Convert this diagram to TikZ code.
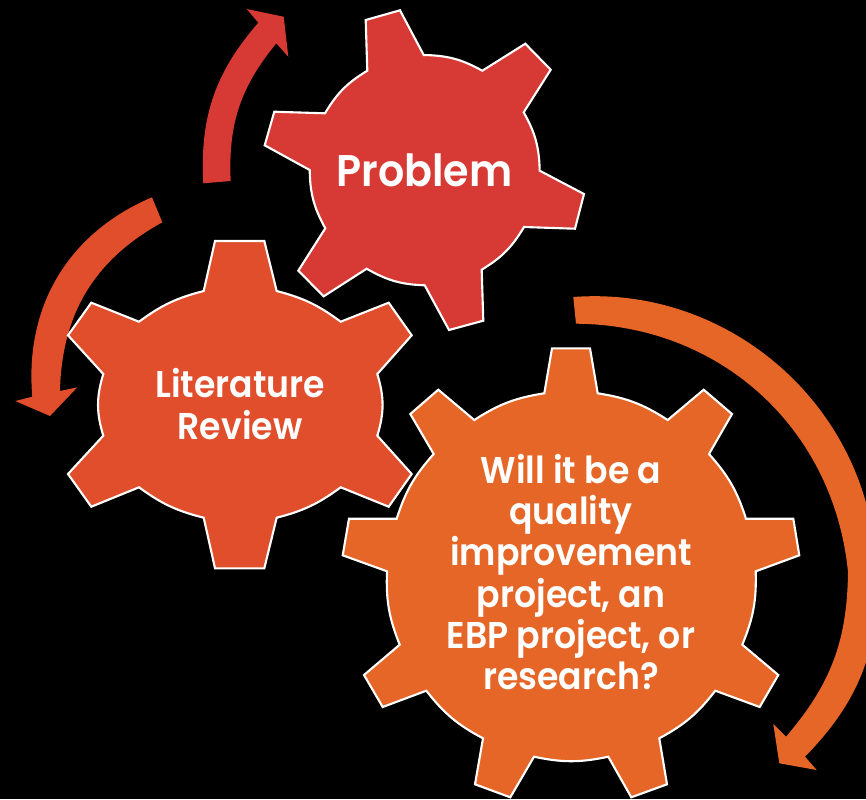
\documentclass[tikz,border=0pt]{standalone}
\usepackage{fontspec}
\setmainfont[BoldFont={Poppins SemiBold},FakeStretch=0.93]{Poppins}
\usepackage{tikz}
\usetikzlibrary{calc}
\definecolor{ProblemRed}{RGB}{215,58,52}
\definecolor{ReviewRed}{RGB}{224,78,44}
\definecolor{QualityOrange}{RGB}{229,102,39}
\tikzset{
	gearBody/.style={draw=white, line width=0.6pt, line join=miter},
	gearText/.style={text=white, align=center, font=\bfseries\fontsize{10.6}{11.7}\selectfont},
}
\begin{document}
\begin{tikzpicture}[x=0.01cm, y=-0.01cm]
		\fill [black] (0,0) rectangle (866,799);
		\clip (0,0) rectangle (866,799);
		
		%problem
		\fill [ProblemRed] (203.3,183.3) to[bend left=22] (258.3,22.7) -- (246.7,9) -- (283.7,16.7)
								-- (288.3,56.7) -- (276.3,43.3) to[bend right=21] (230.7,181) -- cycle;
		\draw [gearBody, fill=ProblemRed] (365.7,20) -- (400,10.3) -- (423.7,55)
								to[bend left=14] (482.3,70.7) -- (525.3,43.7) -- (550.7,69.7) -- (523.7,112.3)
								to[bend left=14] (539.7,170.7) -- (584,194) -- (575,228.7) -- (524,227)
								to[bend left=14] (481.7,269.7) -- (483.3,320.7) -- (449,330) -- (424.7,285.3)
								to[bend left=14] (366.7,268.7) -- (323.7,296.3) -- (298.3,270.7) -- (325.3,228.3)
								to[bend left=14] (309.7,170) -- (264.7,145.3) -- (274.3,111.7) -- (325,113.3)
								to[bend left=14] (367.3,70.7) -- cycle;
		
		%literature review
		\fill [ReviewRed] (152,197.3) to[bend right=36] (32.3,396.7) -- (15.3,401) -- (50,416)
								-- (77.3,387.3) -- (60,391) to[bend left=30] (162.3,222.3) -- cycle;
		\draw [gearBody, fill=ReviewRed] (215,241) -- (264.3,241) -- (276.7,291)
								to[bend left=11] (340.7,321.7) -- (388.7,302.7) -- (411.7,335.3) -- (377.3,374)
								to[bend left=17] (377.3,435.7) -- (411.7,474) -- (388.7,506.7) -- (340.7,487.3)
								to[bend left=11] (276.7,517.7) -- (264.3,568.3) -- (215,568.3) -- (203.7,517.7)
								to[bend left=11] (139,487.3) -- (91.3,506.7) -- (68,474) -- (103.3,435.7)
								to[bend left=17] (103.3,374) -- (68,335.3) -- (91.3,302.7) -- (139,321.7)
								to[bend left=11] (203.7,291) -- cycle;
		
		%quality, EBP or research
		\fill [QualityOrange] (573.3,297) to[bend left=46] (876,566) to[bend left=24] (805,756.7) -- (816.7,770)
								-- (779.3,763.3) -- (773.3,724) -- (786,736.7) to[bend right=20] (848,572)
								to[bend right=42] (576,323.7) -- cycle;
		\draw [gearBody, fill=QualityOrange] (552,348.3) -- (590,348.3) -- (597.7,393.3)
								to[bend left=12] (667.7,420) -- (703.7,389.7) -- (732,414) -- (709,454)
								to[bend left=12] (746,518.7) -- (793.3,518.7) -- (799.3,555.3) -- (755.7,571.3)
								to[bend left=12] (742.3,644.7) -- (778.3,675) -- (759.7,707) -- (715.3,690.7)
								to[bend left=12] (659.3,738.3) -- (667,784.3) -- (631.3,797.3) -- (608.3,756.7)
								to[bend left=12] (534,756.7) -- (510.3,797.3) -- (475,784.3) -- (483,738.3)
								to[bend left=12] (426.3,690.7) -- (382.7,707) -- (364,675) -- (399.7,644.7)
								to[bend left=12] (387,571.3) -- (342.7,555.3) -- (349,518.7) -- (396.7,518.7)
								to[bend left=12] (433.7,454) -- (410.3,414) -- (438.3,389.7) -- (474.3,420)
								to[bend left=12] (544.3,393.3) -- cycle;
		
		\node [gearText, font=\bfseries\fontsize{12.6}{14}\selectfont] (problem) at (424.5,170) {Problem};
		\node [gearText] (review) at (240,404) {Literature\\Review};
		\node [gearText] (quality) at (571,572) {Will it be a\\quality\\improvement\\project, an\\EBP project, or\\research?};
	\end{tikzpicture}
\end{document}
